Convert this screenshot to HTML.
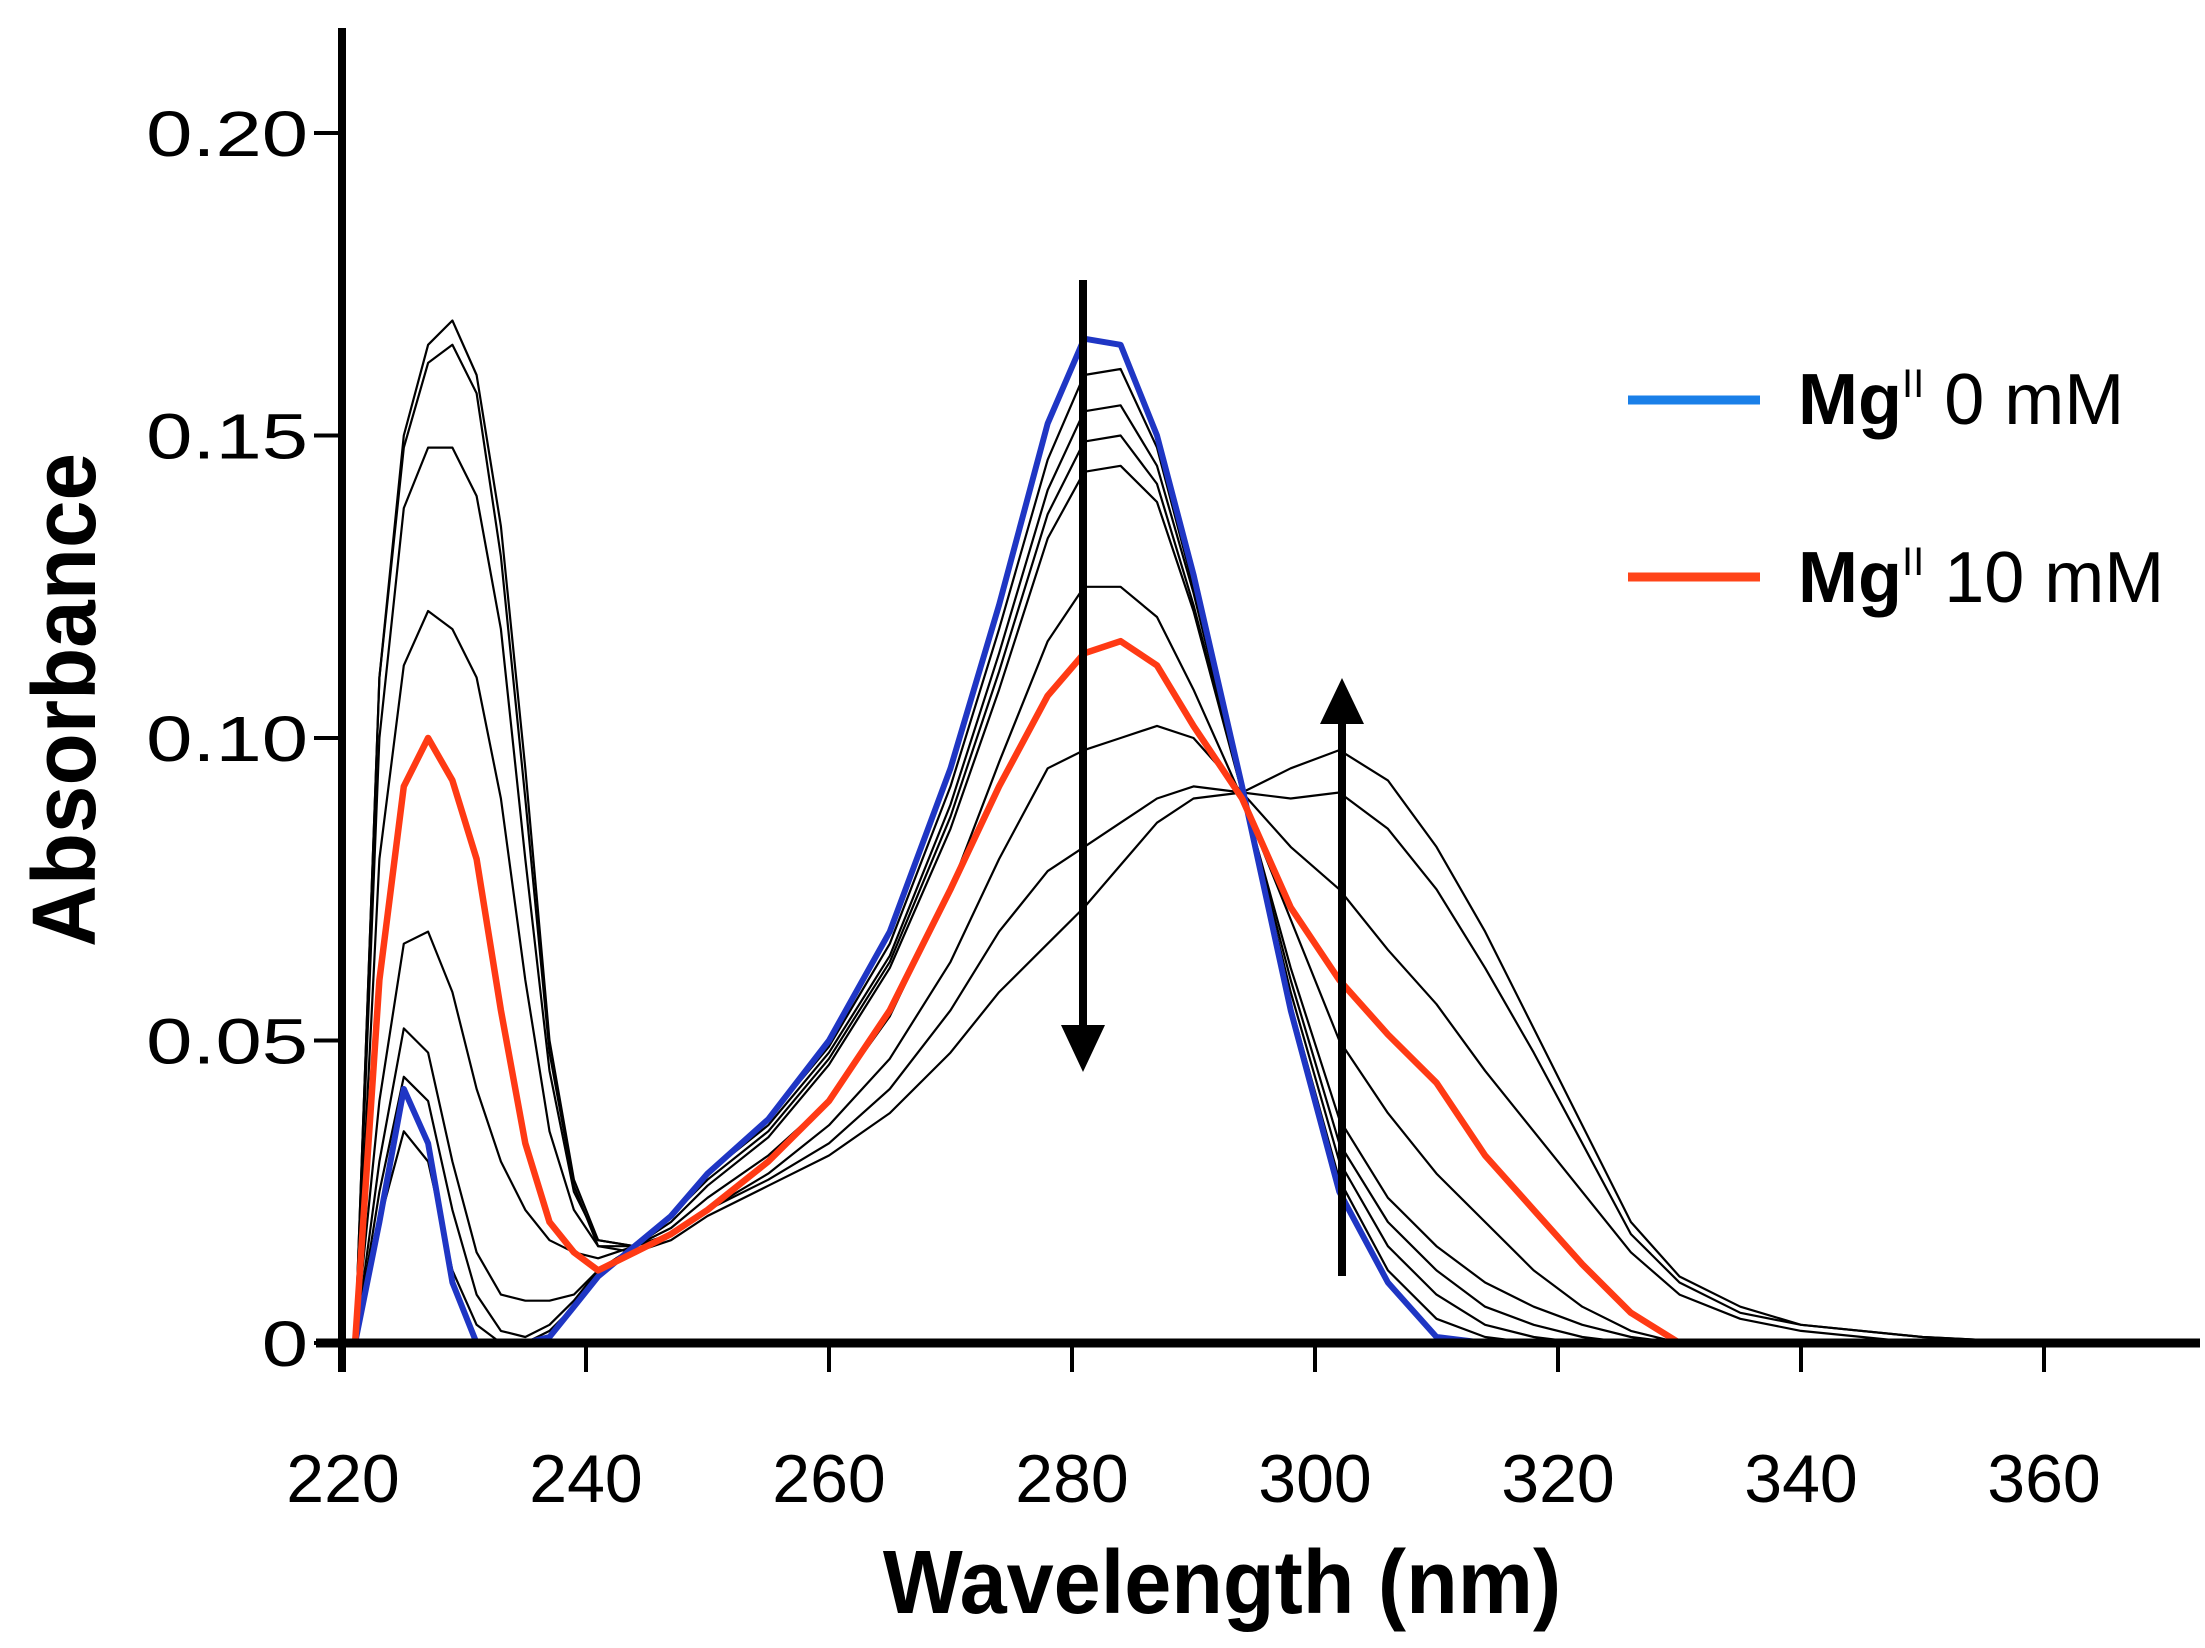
<!DOCTYPE html>
<html><head><meta charset="utf-8"><style>
html,body{margin:0;padding:0;background:#fff;}
svg{display:block;}
text{font-family:"Liberation Sans",Arial,sans-serif;fill:#000;}
</style></head><body>
<svg id="chart" width="2205" height="1648" viewBox="0 0 2205 1648" xmlns="http://www.w3.org/2000/svg">
<g id="curves"></g>
<g id="axes"></g>
<g>
<line x1="1083" y1="280" x2="1083" y2="1030" stroke="#000" stroke-width="8"/>
<polygon points="1061,1025 1105,1025 1083,1072" fill="#000"/>
</g>
<g>
<line x1="1342" y1="1276" x2="1342" y2="718" stroke="#000" stroke-width="8"/>
<polygon points="1320,724 1364,724 1342,678" fill="#000"/>
</g>
<g>
<g>
<line x1="1628" y1="400" x2="1760" y2="400" stroke="#1a7fe8" stroke-width="9"/>
<text x="1798" y="424" font-size="72"><tspan font-weight="bold">Mg</tspan><tspan font-size="40" dy="-27">II</tspan><tspan dy="27"> 0 mM</tspan></text>
</g>
<g>
<line x1="1628" y1="577" x2="1760" y2="577" stroke="#ff4419" stroke-width="9"/>
<text x="1798" y="602" font-size="72"><tspan font-weight="bold">Mg</tspan><tspan font-size="40" dy="-27">II</tspan><tspan dy="27"> 10 mM</tspan></text>
</g>
</g>
<text x="1222" y="1613" font-size="90" font-weight="bold" text-anchor="middle" transform="translate(1222 0) scale(0.94 1) translate(-1222 0)">Wavelength (nm)</text>
<text x="0" y="0" font-size="90" font-weight="bold" text-anchor="middle" transform="translate(95 700) rotate(-90) scale(0.95 1)">Absorbance</text>
</svg>
<script>
const wavelengths=[221,223,225,227,229,231,233,235,237,239,241,244,247,250,255,260,265,270,274,278,281,284,287,290,294,298,302,306,310,314,318,322,326,330,335,340,350,360];
const mg0=[0,0.02,0.042,0.033,0.01,0,0,0,0.001,0.006,0.011,0.016,0.021,0.028,0.037,0.05,0.068,0.095,0.122,0.152,0.166,0.165,0.15,0.127,0.092,0.055,0.025,0.01,0.001,0,0,0,0,0,0,0,0,0];
const mg10=[0,0.06,0.092,0.1,0.093,0.08,0.055,0.033,0.02,0.015,0.012,0.015,0.018,0.022,0.03,0.04,0.055,0.075,0.092,0.107,0.114,0.116,0.112,0.102,0.09,0.072,0.06,0.051,0.043,0.031,0.022,0.013,0.005,0,0,0,0,0];
const b1=[0,0.02,0.035,0.03,0.012,0.003,0,0,0.002,0.006,0.011,0.016,0.021,0.028,0.037,0.049,0.066,0.092,0.118,0.146,0.16,0.161,0.148,0.125,0.091,0.056,0.027,0.012,0.004,0.001,0,0,0,0,0,0,0,0];
const b2=[0,0.025,0.044,0.04,0.022,0.008,0.002,0.001,0.003,0.007,0.012,0.016,0.021,0.028,0.036,0.048,0.064,0.089,0.114,0.141,0.154,0.155,0.145,0.124,0.091,0.058,0.03,0.016,0.008,0.003,0.001,0,0,0,0,0,0,0];
const b3=[0,0.03,0.052,0.048,0.03,0.015,0.008,0.007,0.007,0.008,0.012,0.016,0.021,0.027,0.035,0.047,0.063,0.087,0.111,0.137,0.149,0.15,0.142,0.122,0.091,0.06,0.033,0.02,0.012,0.006,0.003,0.001,0,0,0,0,0,0];
const b4=[0,0.04,0.066,0.068,0.058,0.042,0.03,0.022,0.017,0.015,0.014,0.016,0.02,0.026,0.034,0.046,0.062,0.085,0.108,0.133,0.144,0.145,0.139,0.121,0.091,0.062,0.037,0.024,0.016,0.01,0.006,0.003,0.001,0,0,0,0,0];
const b5=[0,0.08,0.112,0.121,0.118,0.11,0.09,0.06,0.035,0.022,0.016,0.016,0.019,0.024,0.031,0.04,0.054,0.075,0.096,0.116,0.125,0.125,0.12,0.108,0.09,0.07,0.05,0.038,0.028,0.02,0.012,0.006,0.002,0,0,0,0,0];
const b6=[0,0.1,0.138,0.148,0.148,0.14,0.118,0.08,0.045,0.025,0.017,0.016,0.018,0.022,0.028,0.036,0.047,0.063,0.08,0.095,0.098,0.1,0.102,0.1,0.091,0.082,0.075,0.065,0.056,0.045,0.035,0.025,0.015,0.008,0.004,0.002,0,0];
const b7=[0,0.11,0.15,0.165,0.169,0.16,0.135,0.095,0.05,0.027,0.017,0.016,0.018,0.022,0.027,0.033,0.042,0.055,0.068,0.078,0.082,0.086,0.09,0.092,0.091,0.09,0.091,0.085,0.075,0.062,0.048,0.033,0.018,0.01,0.005,0.003,0.001,0];
const b8=[0,0.11,0.148,0.162,0.165,0.157,0.13,0.09,0.048,0.026,0.016,0.015,0.017,0.021,0.026,0.031,0.038,0.048,0.058,0.066,0.072,0.079,0.086,0.09,0.091,0.095,0.098,0.093,0.082,0.068,0.052,0.036,0.02,0.011,0.006,0.003,0.001,0];
const xTicks=[220,240,260,280,300,320,340,360];
const yTicks=[0,0.05,0.10,0.15,0.20];
const yTickLabels=["0","0.05","0.10","0.15","0.20"];

const NS="http://www.w3.org/2000/svg";
function xs(v){return 343+(v-220)*(2044-343)/140;}
function ys(v){return 1343-v*(1343-133)/0.2;}
const curves=document.getElementById('curves');
const axes=document.getElementById('axes');
function drawLine(vals,color,w,name){
  const p=document.createElementNS(NS,'polyline');
  p.setAttribute('points',wavelengths.map((x,i)=>xs(x).toFixed(1)+','+ys(Math.max(0,vals[i])).toFixed(1)).join(' '));
  p.setAttribute('fill','none');p.setAttribute('stroke',color);p.setAttribute('stroke-width',w);
  p.setAttribute('stroke-linejoin','round');
  
  
  curves.appendChild(p);
}
[b1,b2,b3,b4,b5,b6,b7,b8].forEach((b,i)=>drawLine(b,'#000',2.2,'series-intermediate-'+(i+1)));
drawLine(mg0,'#1f36c4',6,'series-mg-0mm');
drawLine(mg10,'#ff3a14',6.5,'series-mg-10mm');

function mk(tag,attrs){const e=document.createElementNS(NS,tag);for(const k in attrs)e.setAttribute(k,attrs[k]);axes.appendChild(e);return e;}
const ya=mk('line',{x1:342,y1:28,x2:342,y2:1372,stroke:'#000','stroke-width':8});


const xa=mk('line',{x1:316,y1:1343,x2:2200,y2:1343,stroke:'#000','stroke-width':9});


xTicks.forEach(t=>{
  const l=mk('line',{x1:xs(t),y1:1343,x2:xs(t),y2:1372,stroke:'#000','stroke-width':4});
  
  
  const tx=mk('text',{x:xs(t),y:1502,'font-size':68,'text-anchor':'middle'});
  tx.textContent=t;
  
  
});
yTicks.forEach((t,i)=>{
  const l=mk('line',{x1:314,y1:ys(t),x2:342,y2:ys(t),stroke:'#000','stroke-width':4});
  
  
  const tx=mk('text',{x:0,y:0,'font-size':64,'text-anchor':'end',transform:'translate(308 '+(ys(t)+23)+') scale(1.3 1)'});
  tx.textContent=yTickLabels[i];
  
  
});
</script>
</body></html>
